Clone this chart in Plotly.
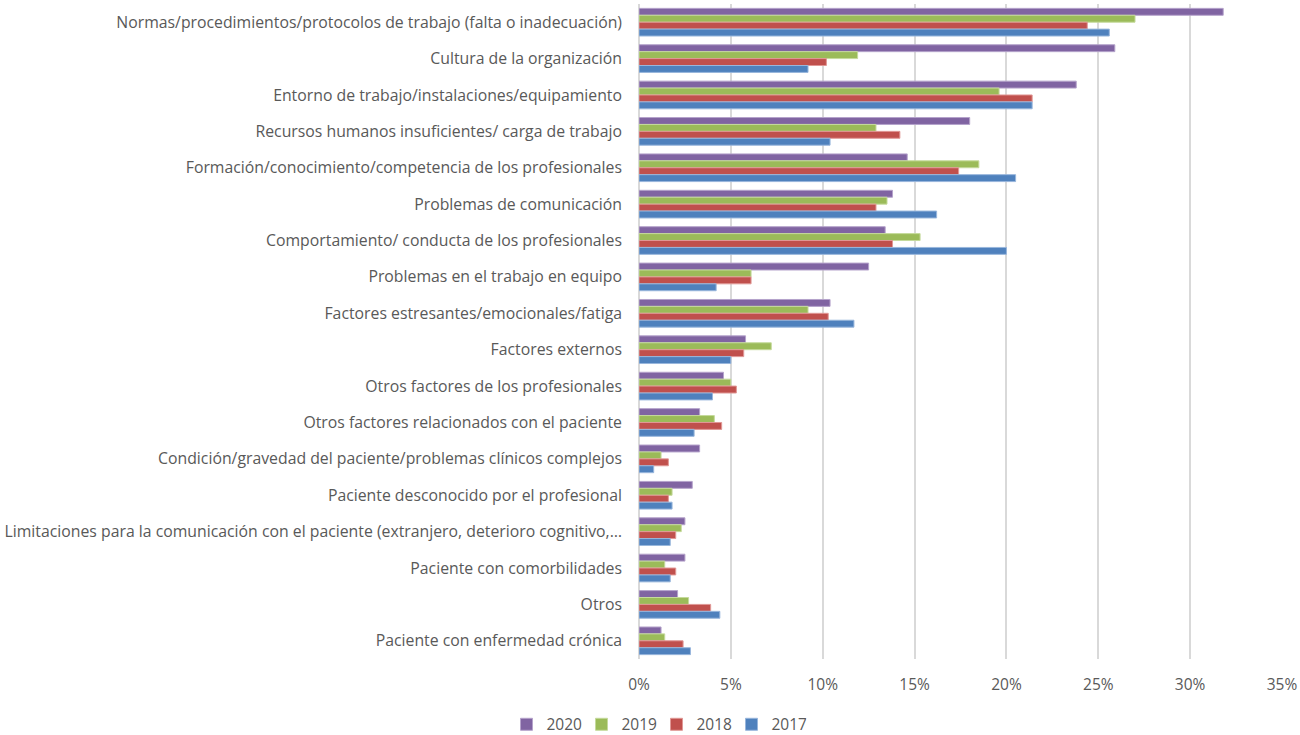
import plotly.graph_objects as go

categories = [
    "Normas/procedimientos/protocolos de trabajo (falta o inadecuación)",
    "Cultura de la organización",
    "Entorno de trabajo/instalaciones/equipamiento",
    "Recursos humanos insuficientes/ carga de trabajo",
    "Formación/conocimiento/competencia de los profesionales",
    "Problemas de comunicación",
    "Comportamiento/ conducta de los profesionales",
    "Problemas en el trabajo en equipo",
    "Factores estresantes/emocionales/fatiga",
    "Factores externos",
    "Otros factores de los profesionales",
    "Otros factores relacionados con el paciente",
    "Condición/gravedad del paciente/problemas clínicos complejos",
    "Paciente desconocido por el profesional",
    "Limitaciones para la comunicación con el paciente (extranjero, deterioro cognitivo,…",
    "Paciente con comorbilidades",
    "Otros",
    "Paciente con enfermedad crónica",
]

v2020 = [31.8, 25.9, 23.8, 18.0, 14.6, 13.8, 13.4, 12.5, 10.4, 5.8, 4.6, 3.3, 3.3, 2.9, 2.5, 2.5, 2.1, 1.2]
v2019 = [27.0, 11.9, 19.6, 12.9, 18.5, 13.5, 15.3, 6.1, 9.2, 7.2, 5.0, 4.1, 1.2, 1.8, 2.3, 1.4, 2.7, 1.4]
v2018 = [24.4, 10.2, 21.4, 14.2, 17.4, 12.9, 13.8, 6.1, 10.3, 5.7, 5.3, 4.5, 1.6, 1.6, 2.0, 2.0, 3.9, 2.4]
v2017 = [25.6, 9.2, 21.4, 10.4, 20.5, 16.2, 20.0, 4.2, 11.7, 5.0, 4.0, 3.0, 0.8, 1.8, 1.7, 1.7, 4.4, 2.8]

series = [
    ("2020", v2020, "#8064A2", "#B5A3CB"),
    ("2019", v2019, "#9BBB59", "#C5DA9C"),
    ("2018", v2018, "#C0504D", "#E09896"),
    ("2017", v2017, "#4F81BD", "#98B6DC"),
]

fig = go.Figure()
for name, vals, color, edge in series:
    fig.add_trace(go.Bar(
        name=name,
        x=[v / 100 for v in vals],
        y=categories,
        orientation="h",
        marker=dict(color=color, line=dict(color=edge, width=1)),
    ))

font_family = "'Open Sans', Lato, sans-serif"
fig.update_layout(
    width=1300, height=735,
    barmode="group",
    bargap=0.24,
    bargroupgap=0.0,
    plot_bgcolor="white",
    paper_bgcolor="white",
    font=dict(family=font_family, size=15.8, color="#595959"),
    margin=dict(l=639, r=18, t=4, b=76),
    showlegend=True,
    legend=dict(
        orientation="h",
        xref="container", yref="container",
        x=0.505, y=0.014, xanchor="center", yanchor="middle",
        font=dict(size=15.5, color="#595959"),
        traceorder="normal",
        itemwidth=30,
        entrywidth=30,
        tracegroupgap=0,
    ),
)
fig.update_xaxes(
    range=[0, 0.35],
    tickvals=[0, 0.05, 0.10, 0.15, 0.20, 0.25, 0.30, 0.35],
    tickformat=".0%",
    showgrid=True, gridcolor="#D9D9D9", gridwidth=1.5,
    zeroline=True, zerolinecolor="#D9D9D9", zerolinewidth=1.5,
    ticklabelstandoff=14,
    tickfont=dict(size=15.5, color="#595959"),
)
fig.update_yaxes(
    autorange="reversed",
    showgrid=False,
    ticks="",
    ticklabelstandoff=16,
    tickfont=dict(size=15.8, color="#595959"),
)

fig.write_html("out.html")
